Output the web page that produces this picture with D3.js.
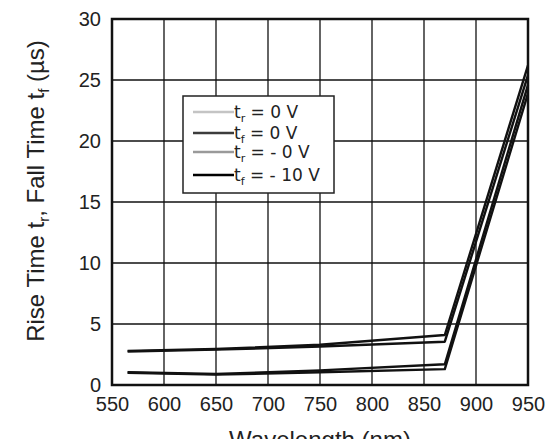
<!DOCTYPE html>
<html>
<head>
<meta charset="utf-8">
<script src="https://cdn.jsdelivr.net/npm/d3@7/dist/d3.min.js"></script>
<style>
  body { margin: 0; background: #fff; }
  svg text { font-family: "Liberation Sans", Arial, sans-serif; fill: #222; }
</style>
</head>
<body>
<div id="chart"></div>
<script>
// data
var xTicks = [550, 600, 650, 700, 750, 800, 850, 900, 950];
var yTicks = [0, 5, 10, 15, 20, 25, 30];
var wavelength = [565, 650, 750, 870, 950];

var trPos = [2.8, 2.95, 3.3, 4.1, 26.2];   // t_r = 0 V
var tfPos = [2.75, 2.9, 3.15, 3.55, 25.4]; // t_f = 0 V
var trNeg = [1.05, 0.9, 1.2, 1.7, 24.6];   // t_r = - 0 V
var tfNeg = [1.0, 0.85, 1.05, 1.3, 23.9];  // t_f = - 10 V

var legendColors = ["#c4c4c4", "#3c3c3c", "#9a9a9a", "#000"];
var series = [
  { sub: "r", rest: " = 0 V", values: trPos },
  { sub: "f", rest: " = 0 V", values: tfPos },
  { sub: "r", rest: " = - 0 V", values: trNeg },
  { sub: "f", rest: " = - 10 V", values: tfNeg }
];

var W = 548, H = 439;
var margin = { left: 112, right: 20, top: 19, bottom: 54 };

var svg = d3.select("#chart").append("svg")
  .attr("width", W).attr("height", H);

var x = d3.scaleLinear().domain([550, 950]).range([margin.left, W - margin.right]);
var y = d3.scaleLinear().domain([0, 30]).range([H - margin.bottom, margin.top]);

//grid
svg.append("g").selectAll("line")
  .data(xTicks.slice(1, -1)).enter().append("line")
  .attr("x1", d => x(d)).attr("x2", d => x(d))
  .attr("y1", y(0)).attr("y2", y(30))
  .attr("stroke", "#111").attr("stroke-width", 1.3);

svg.append("g").selectAll("line")
  .data(yTicks.slice(1, -1)).enter().append("line")
  .attr("y1", d => y(d)).attr("y2", d => y(d))
  .attr("x1", x(550)).attr("x2", x(950))
  .attr("stroke", "#111").attr("stroke-width", 1.3);

//axes (labels only)
var xAxis = svg.append("g")
  .attr("transform", "translate(0," + y(0) + ")")
  .call(d3.axisBottom(x).tickValues(xTicks).tickSize(0).tickPadding(12));
var yAxis = svg.append("g")
  .attr("transform", "translate(" + x(550) + ",0)")
  .call(d3.axisLeft(y).tickValues(yTicks).tickSize(0).tickPadding(11));
[xAxis, yAxis].forEach(function(a) {
  a.select(".domain").remove();
  a.selectAll("text").style("font-size", "20px")
    .style("font-family", "'Liberation Sans', Arial, sans-serif").attr("fill", "#222");
});

//curves
var line = d3.line()
  .x((d, i) => x(wavelength[i]))
  .y(d => y(d));

svg.append("g").selectAll("path")
  .data(series).enter().append("path")
  .attr("d", d => line(d.values))
  .attr("fill", "none")
  .attr("stroke", "#111")
  .attr("stroke-width", 2.4)
  .attr("stroke-linejoin", "round");

//frame
svg.append("rect")
  .attr("x", x(550)).attr("y", y(30))
  .attr("width", x(950) - x(550)).attr("height", y(0) - y(30))
  .attr("fill", "none").attr("stroke", "#111").attr("stroke-width", 2.5);

//legend
var lg = svg.append("g").attr("transform", "translate(183,96)");
lg.append("rect").attr("width", 151).attr("height", 97)
  .attr("fill", "#fff").attr("stroke", "#222").attr("stroke-width", 1.5);

var items = lg.selectAll("g.item").data(series).enter().append("g")
  .attr("transform", (d, i) => "translate(0," + [16, 37, 56, 79][i] + ")");
items.append("line")
  .attr("x1", 10).attr("x2", 51)
  .attr("stroke", (d, i) => legendColors[i])
  .attr("stroke-width", 2.5);
var lt = items.append("text").attr("x", 51).attr("y", 6)
  .style("font-family", "'DejaVu Sans', sans-serif").style("font-size", "17px");
lt.append("tspan").text("t");
lt.append("tspan").attr("dy", 4).style("font-size", "11px").text(d => d.sub);
lt.append("tspan").attr("dy", -4).text(d => d.rest);

//axis titles
svg.append("text")
  .attr("x", (x(550) + x(950)) / 2).attr("y", 448)
  .attr("text-anchor", "middle").style("font-size", "24px")
  .text("Wavelength (nm)");

var yt = svg.append("text")
  .attr("transform", "translate(44,191) rotate(-90)")
  .attr("text-anchor", "middle").style("font-size", "24px");
yt.append("tspan").text("Rise Time t");
yt.append("tspan").attr("dy", 5).style("font-size", "15px").text("r");
yt.append("tspan").attr("dy", -5).text(", Fall Time t");
yt.append("tspan").attr("dy", 5).style("font-size", "15px").text("f");
yt.append("tspan").attr("dy", -5).text(" (µs)");
</script>
</body>
</html>
